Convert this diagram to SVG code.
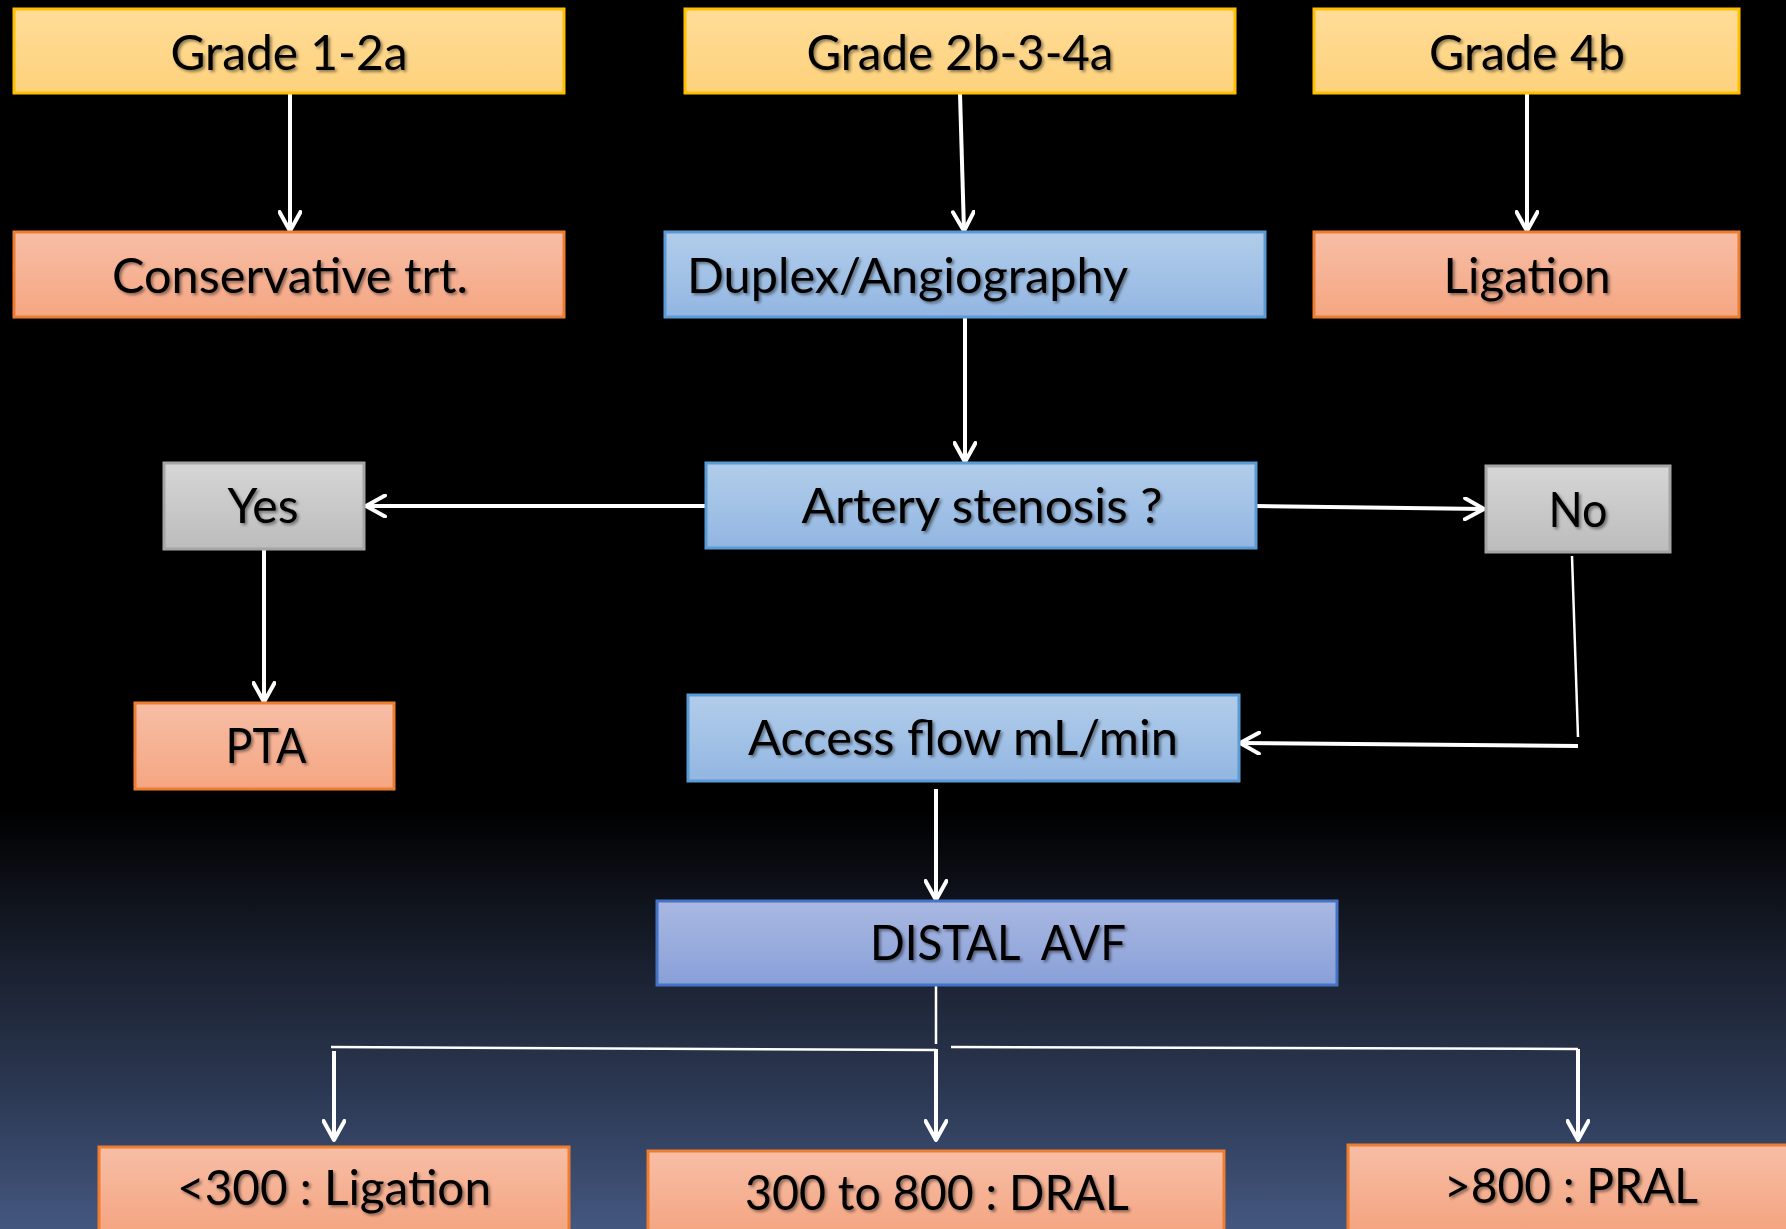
<svg xmlns="http://www.w3.org/2000/svg" width="1786" height="1229" viewBox="0 0 1786 1229">
  <defs>
    <linearGradient id="bg" x1="0" y1="0" x2="0" y2="1">
      <stop offset="0" stop-color="#000000"/>
      <stop offset="0.66" stop-color="#000000"/>
      <stop offset="0.76" stop-color="#151a26"/>
      <stop offset="0.89" stop-color="#2c3954"/>
      <stop offset="1" stop-color="#44577f"/>
    </linearGradient>
    <linearGradient id="gYellow" x1="0" y1="0" x2="0" y2="1">
      <stop offset="0" stop-color="#ffdc98"/>
      <stop offset="1" stop-color="#fed27c"/>
    </linearGradient>
    <linearGradient id="gOrange" x1="0" y1="0" x2="0" y2="1">
      <stop offset="0" stop-color="#f7bea6"/>
      <stop offset="1" stop-color="#f5a682"/>
    </linearGradient>
    <linearGradient id="gOrangeTall" x1="0" y1="0" x2="0" y2="1">
      <stop offset="0" stop-color="#f7bea6"/>
      <stop offset="1" stop-color="#f4a07a"/>
    </linearGradient>
    <linearGradient id="gBlue" x1="0" y1="0" x2="0" y2="1">
      <stop offset="0" stop-color="#b2cdea"/>
      <stop offset="1" stop-color="#92b6e2"/>
    </linearGradient>
    <linearGradient id="gIndigo" x1="0" y1="0" x2="0" y2="1">
      <stop offset="0" stop-color="#aab8e2"/>
      <stop offset="1" stop-color="#88a0d8"/>
    </linearGradient>
    <linearGradient id="gGray" x1="0" y1="0" x2="0" y2="1">
      <stop offset="0" stop-color="#d6d6d6"/>
      <stop offset="1" stop-color="#bcbcbc"/>
    </linearGradient>
    <filter id="shadow" x="-10%" y="-20%" width="120%" height="140%">
      <feDropShadow dx="2" dy="2" stdDeviation="1.5" flood-color="#000" flood-opacity="0.45"/>
    </filter>
    <marker id="arrow" viewBox="0 0 24 24" refX="21" refY="12" markerWidth="24" markerHeight="24" markerUnits="userSpaceOnUse" orient="auto">
      <path d="M2,1.5 L21,12 L2,22.5" fill="none" stroke="#ffffff" stroke-width="4" stroke-linecap="round" stroke-linejoin="round"/>
    </marker>
  </defs>
  <style>
    .yellow { fill: url(#gYellow); stroke: #ffc000; stroke-width: 3; }
    .orange { fill: url(#gOrange); stroke: #ed7d31; stroke-width: 3; }
    .orangeB { fill: url(#gOrangeTall); stroke: #ed7d31; stroke-width: 3; }
    .blue { fill: url(#gBlue); stroke: #5b9bd5; stroke-width: 3; }
    .indigo { fill: url(#gIndigo); stroke: #4472c4; stroke-width: 3; }
    .gray { fill: url(#gGray); stroke: #a5a5a5; stroke-width: 3; }
    .lbl { font-family: Lato, "Open Sans", "Liberation Sans", sans-serif; font-size: 48px; fill: #000000; text-anchor: middle; filter: url(#shadow); }
    .lbll { text-anchor: start; }
    .conn { fill: none; stroke: #ffffff; stroke-width: 4; }
    .thin { fill: none; stroke: #ffffff; stroke-width: 2.5; }
  </style>

  <rect x="0" y="0" width="1786" height="1229" fill="url(#bg)"/>

  <g id="connectors">
    <line class="conn" x1="290" y1="94" x2="290" y2="231" marker-end="url(#arrow)"/>
    <line class="conn" x1="960" y1="94" x2="964" y2="231" marker-end="url(#arrow)"/>
    <line class="conn" x1="1527" y1="94" x2="1527" y2="231" marker-end="url(#arrow)"/>
    <line class="conn" x1="965" y1="317" x2="965" y2="462" marker-end="url(#arrow)"/>
    <line class="conn" x1="705" y1="506" x2="366" y2="506" marker-end="url(#arrow)"/>
    <line class="conn" x1="264" y1="550" x2="264" y2="702" marker-end="url(#arrow)"/>
    <line class="conn" x1="1256" y1="506" x2="1484" y2="509" marker-end="url(#arrow)"/>
    <line class="thin" x1="1572" y1="556" x2="1578" y2="737"/>
    <line class="conn" x1="1578" y1="746" x2="1240" y2="743" marker-end="url(#arrow)"/>
    <line class="conn" x1="936" y1="789" x2="936" y2="900" marker-end="url(#arrow)"/>
    <line class="thin" x1="936" y1="986" x2="936" y2="1044"/>
    <polyline class="thin" points="331,1047 936,1050"/>
    <line class="conn" x1="334" y1="1051" x2="334" y2="1140" marker-end="url(#arrow)"/>
    <line class="conn" x1="936" y1="1049" x2="936" y2="1140" marker-end="url(#arrow)"/>
    <polyline class="thin" points="951,1047 1578,1049"/>
    <line class="conn" x1="1578" y1="1049" x2="1578" y2="1140" marker-end="url(#arrow)"/>
  </g>

  <g id="grade12a">
    <rect class="yellow" x="14" y="9" width="550" height="84"/>
    <text class="lbl" x="289" y="70" textLength="237" lengthAdjust="spacingAndGlyphs">Grade 1-2a</text>
  </g>
  <g id="grade2b34a">
    <rect class="yellow" x="685" y="9" width="550" height="84"/>
    <text class="lbl" x="960" y="70" textLength="307" lengthAdjust="spacingAndGlyphs">Grade 2b-3-4a</text>
  </g>
  <g id="grade4b">
    <rect class="yellow" x="1314" y="9" width="425" height="84"/>
    <text class="lbl" x="1527" y="70" textLength="196" lengthAdjust="spacingAndGlyphs">Grade 4b</text>
  </g>
  <g id="conservative">
    <rect class="orange" x="14" y="232" width="550" height="85"/>
    <text class="lbl" x="290" y="293" textLength="356" lengthAdjust="spacingAndGlyphs">Conservative trt.</text>
  </g>
  <g id="duplex">
    <rect class="blue" x="665" y="232" width="600" height="85"/>
    <text class="lbl lbll" x="687" y="293" textLength="441" lengthAdjust="spacingAndGlyphs">Duplex/Angiography</text>
  </g>
  <g id="ligation">
    <rect class="orange" x="1314" y="232" width="425" height="85"/>
    <text class="lbl" x="1527" y="293" textLength="167" lengthAdjust="spacingAndGlyphs">Ligation</text>
  </g>
  <g id="artery">
    <rect class="blue" x="706" y="463" width="550" height="85"/>
    <text class="lbl" x="982" y="523" textLength="361" lengthAdjust="spacingAndGlyphs">Artery stenosis ?</text>
  </g>
  <g id="yes">
    <rect class="gray" x="164" y="463" width="200" height="86"/>
    <text class="lbl" x="263" y="523" textLength="71" lengthAdjust="spacingAndGlyphs">Yes</text>
  </g>
  <g id="no">
    <rect class="gray" x="1486" y="466" width="184" height="86"/>
    <text class="lbl" x="1578" y="527" textLength="59" lengthAdjust="spacingAndGlyphs">No</text>
  </g>
  <g id="pta">
    <rect class="orange" x="135" y="703" width="259" height="86"/>
    <text class="lbl" x="266" y="763" textLength="81" lengthAdjust="spacingAndGlyphs">PTA</text>
  </g>
  <g id="accessflow">
    <rect class="blue" x="688" y="695" width="551" height="86"/>
    <text class="lbl" x="963" y="755" textLength="430" lengthAdjust="spacingAndGlyphs">Access flow mL/min</text>
  </g>
  <g id="distalavf">
    <rect class="indigo" x="657" y="901" width="680" height="84"/>
    <text class="lbl" x="998" y="960" textLength="256" lengthAdjust="spacingAndGlyphs" xml:space="preserve">DISTAL  AVF</text>
  </g>
  <g id="lt300">
    <rect class="orangeB" x="99" y="1147" width="470" height="100"/>
    <text class="lbl" x="334" y="1205" textLength="314" lengthAdjust="spacingAndGlyphs">&lt;300 : Ligation</text>
  </g>
  <g id="mid300800">
    <rect class="orangeB" x="648" y="1151" width="576" height="100"/>
    <text class="lbl" x="937" y="1210" textLength="384" lengthAdjust="spacingAndGlyphs">300 to 800 : DRAL</text>
  </g>
  <g id="gt800">
    <rect class="orangeB" x="1348" y="1145" width="460" height="100"/>
    <text class="lbl" x="1571" y="1203" textLength="254" lengthAdjust="spacingAndGlyphs">&gt;800 : PRAL</text>
  </g>
</svg>
